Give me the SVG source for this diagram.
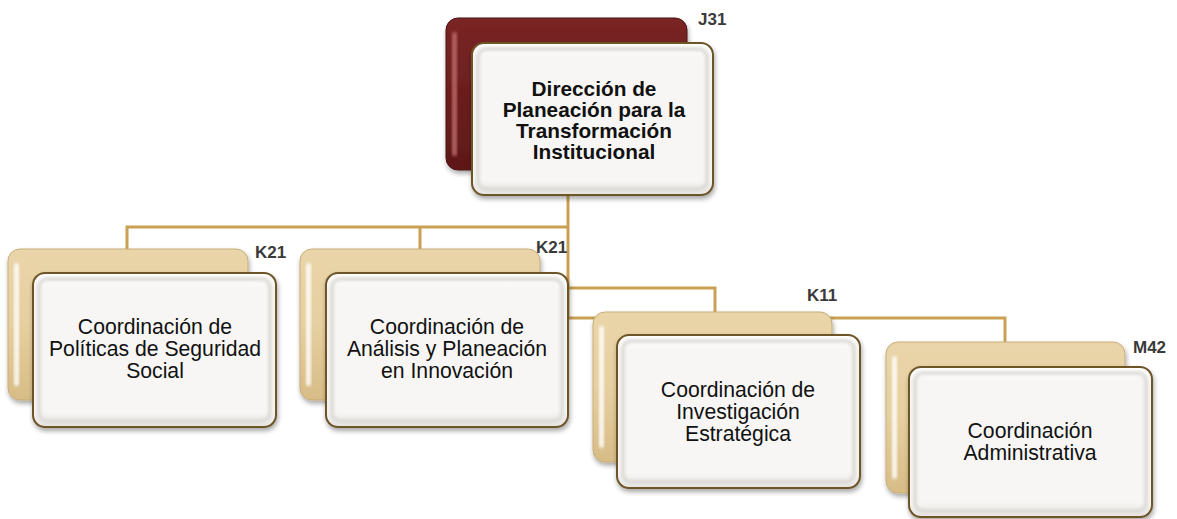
<svg xmlns="http://www.w3.org/2000/svg" width="1177" height="519" viewBox="0 0 1177 519">
<defs>
<linearGradient id="tan" x1="0" y1="0" x2="0" y2="1">
<stop offset="0" stop-color="#EAD5AA"/>
<stop offset="0.5" stop-color="#E6CFA0"/>
<stop offset="1" stop-color="#D7BC86"/>
</linearGradient>
<linearGradient id="red" x1="0" y1="0" x2="0" y2="1">
<stop offset="0" stop-color="#7A2525"/>
<stop offset="1" stop-color="#5E1818"/>
</linearGradient>
<linearGradient id="face" x1="0" y1="0" x2="0" y2="1">
<stop offset="0" stop-color="#FFFFFF"/>
<stop offset="0.1" stop-color="#F7F6F4"/>
<stop offset="0.9" stop-color="#F7F6F4"/>
<stop offset="1" stop-color="#E6E4E1"/>
</linearGradient>
<filter id="sh" x="-10%" y="-10%" width="125%" height="130%">
<feGaussianBlur in="SourceAlpha" stdDeviation="2.5"/>
<feOffset dx="1" dy="3" result="b"/>
<feComponentTransfer><feFuncA type="linear" slope="0.35"/></feComponentTransfer>
<feMerge><feMergeNode/><feMergeNode in="SourceGraphic"/></feMerge>
</filter>
<filter id="soft"><feGaussianBlur stdDeviation="1.5"/></filter>
</defs>
<style>
.back{fill:url(#tan);stroke:#C9AD78;stroke-width:1}
.backr{fill:url(#red);stroke:#4E1212;stroke-width:1}
.hl{fill:#FFFFFF;opacity:0.85}
.hlr{fill:#C27070;opacity:0.8}
.front{fill:url(#face);stroke:#6E5428;stroke-width:2}
.bevel{fill:none;stroke:#D8D6D2;stroke-width:4;opacity:0.8}
.lab{font-family:"Liberation Sans",Arial,sans-serif;font-size:17px;font-weight:bold;fill:#3A3A3A}
.t{font-family:"Liberation Sans",Arial,sans-serif;font-size:21.2px;fill:#111;text-anchor:middle}
.tb{font-family:"Liberation Sans",Arial,sans-serif;font-size:20.8px;font-weight:bold;fill:#111;text-anchor:middle}
.c{fill:none;stroke:#C9A054;stroke-width:3}
</style>
<g id="connectors">
<path class="c" d="M568 195 V318"/>
<path class="c" d="M127 250 V227 H568"/>
<path class="c" d="M420 227 V250"/>
<path class="c" d="M568 288 H715 V312"/>
<path class="c" d="M568 318 H1005 V342"/>
</g>
<g id="n-j31">
<rect class="backr" x="446" y="18" width="241" height="152" rx="12" filter="url(#sh)"/>
<rect class="hlr" x="452" y="32" width="5" height="124" rx="2.5" filter="url(#soft)"/>
<rect class="front" x="472" y="43" width="241" height="152" rx="12" filter="url(#sh)"/>
<rect class="bevel" x="478" y="49" width="229" height="140" rx="8" filter="url(#soft)"/>
<text class="lab" x="698" y="25">J31</text>
<text class="tb" x="594" y="96">Dirección de</text>
<text class="tb" x="594" y="117">Planeación para la</text>
<text class="tb" x="594" y="138">Transformación</text>
<text class="tb" x="594" y="159">Institucional</text>
</g>
<g id="n-k21a">
<rect class="back" x="8" y="249" width="240" height="151" rx="12" filter="url(#sh)"/>
<rect class="hl" x="14" y="263" width="5" height="123" rx="2.5" filter="url(#soft)"/>
<rect class="front" x="33" y="273" width="243" height="154" rx="12" filter="url(#sh)"/>
<rect class="bevel" x="39" y="279" width="231" height="142" rx="8" filter="url(#soft)"/>
<text class="lab" x="255" y="258">K21</text>
<text class="t" x="155" y="334">Coordinación de</text>
<text class="t" x="155" y="356">Políticas de Seguridad</text>
<text class="t" x="155" y="378">Social</text>
</g>
<g id="n-k21b">
<rect class="back" x="300" y="249" width="240" height="151" rx="12" filter="url(#sh)"/>
<rect class="hl" x="306" y="263" width="5" height="123" rx="2.5" filter="url(#soft)"/>
<rect class="front" x="326" y="273" width="242" height="154" rx="12" filter="url(#sh)"/>
<rect class="bevel" x="332" y="279" width="230" height="142" rx="8" filter="url(#soft)"/>
<text class="lab" x="536" y="253">K21</text>
<text class="t" x="447" y="334">Coordinación de</text>
<text class="t" x="447" y="356">Análisis y Planeación</text>
<text class="t" x="447" y="378">en Innovación</text>
</g>
<g id="n-k11">
<rect class="back" x="593" y="312" width="239" height="150" rx="12" filter="url(#sh)"/>
<rect class="hl" x="599" y="326" width="5" height="122" rx="2.5" filter="url(#soft)"/>
<rect class="front" x="617" y="335" width="243" height="153" rx="12" filter="url(#sh)"/>
<rect class="bevel" x="623" y="341" width="231" height="141" rx="8" filter="url(#soft)"/>
<text class="lab" x="807" y="301">K11</text>
<text class="t" x="738" y="397">Coordinación de</text>
<text class="t" x="738" y="419">Investigación</text>
<text class="t" x="738" y="441">Estratégica</text>
</g>
<g id="n-m42">
<rect class="back" x="886" y="342" width="239" height="151" rx="12" filter="url(#sh)"/>
<rect class="hl" x="892" y="356" width="5" height="123" rx="2.5" filter="url(#soft)"/>
<rect class="front" x="909" y="367" width="243" height="150" rx="12" filter="url(#sh)"/>
<rect class="bevel" x="915" y="373" width="231" height="138" rx="8" filter="url(#soft)"/>
<text class="lab" x="1133" y="353">M42</text>
<text class="t" x="1030" y="438">Coordinación</text>
<text class="t" x="1030" y="460">Administrativa</text>
</g>
</svg>
